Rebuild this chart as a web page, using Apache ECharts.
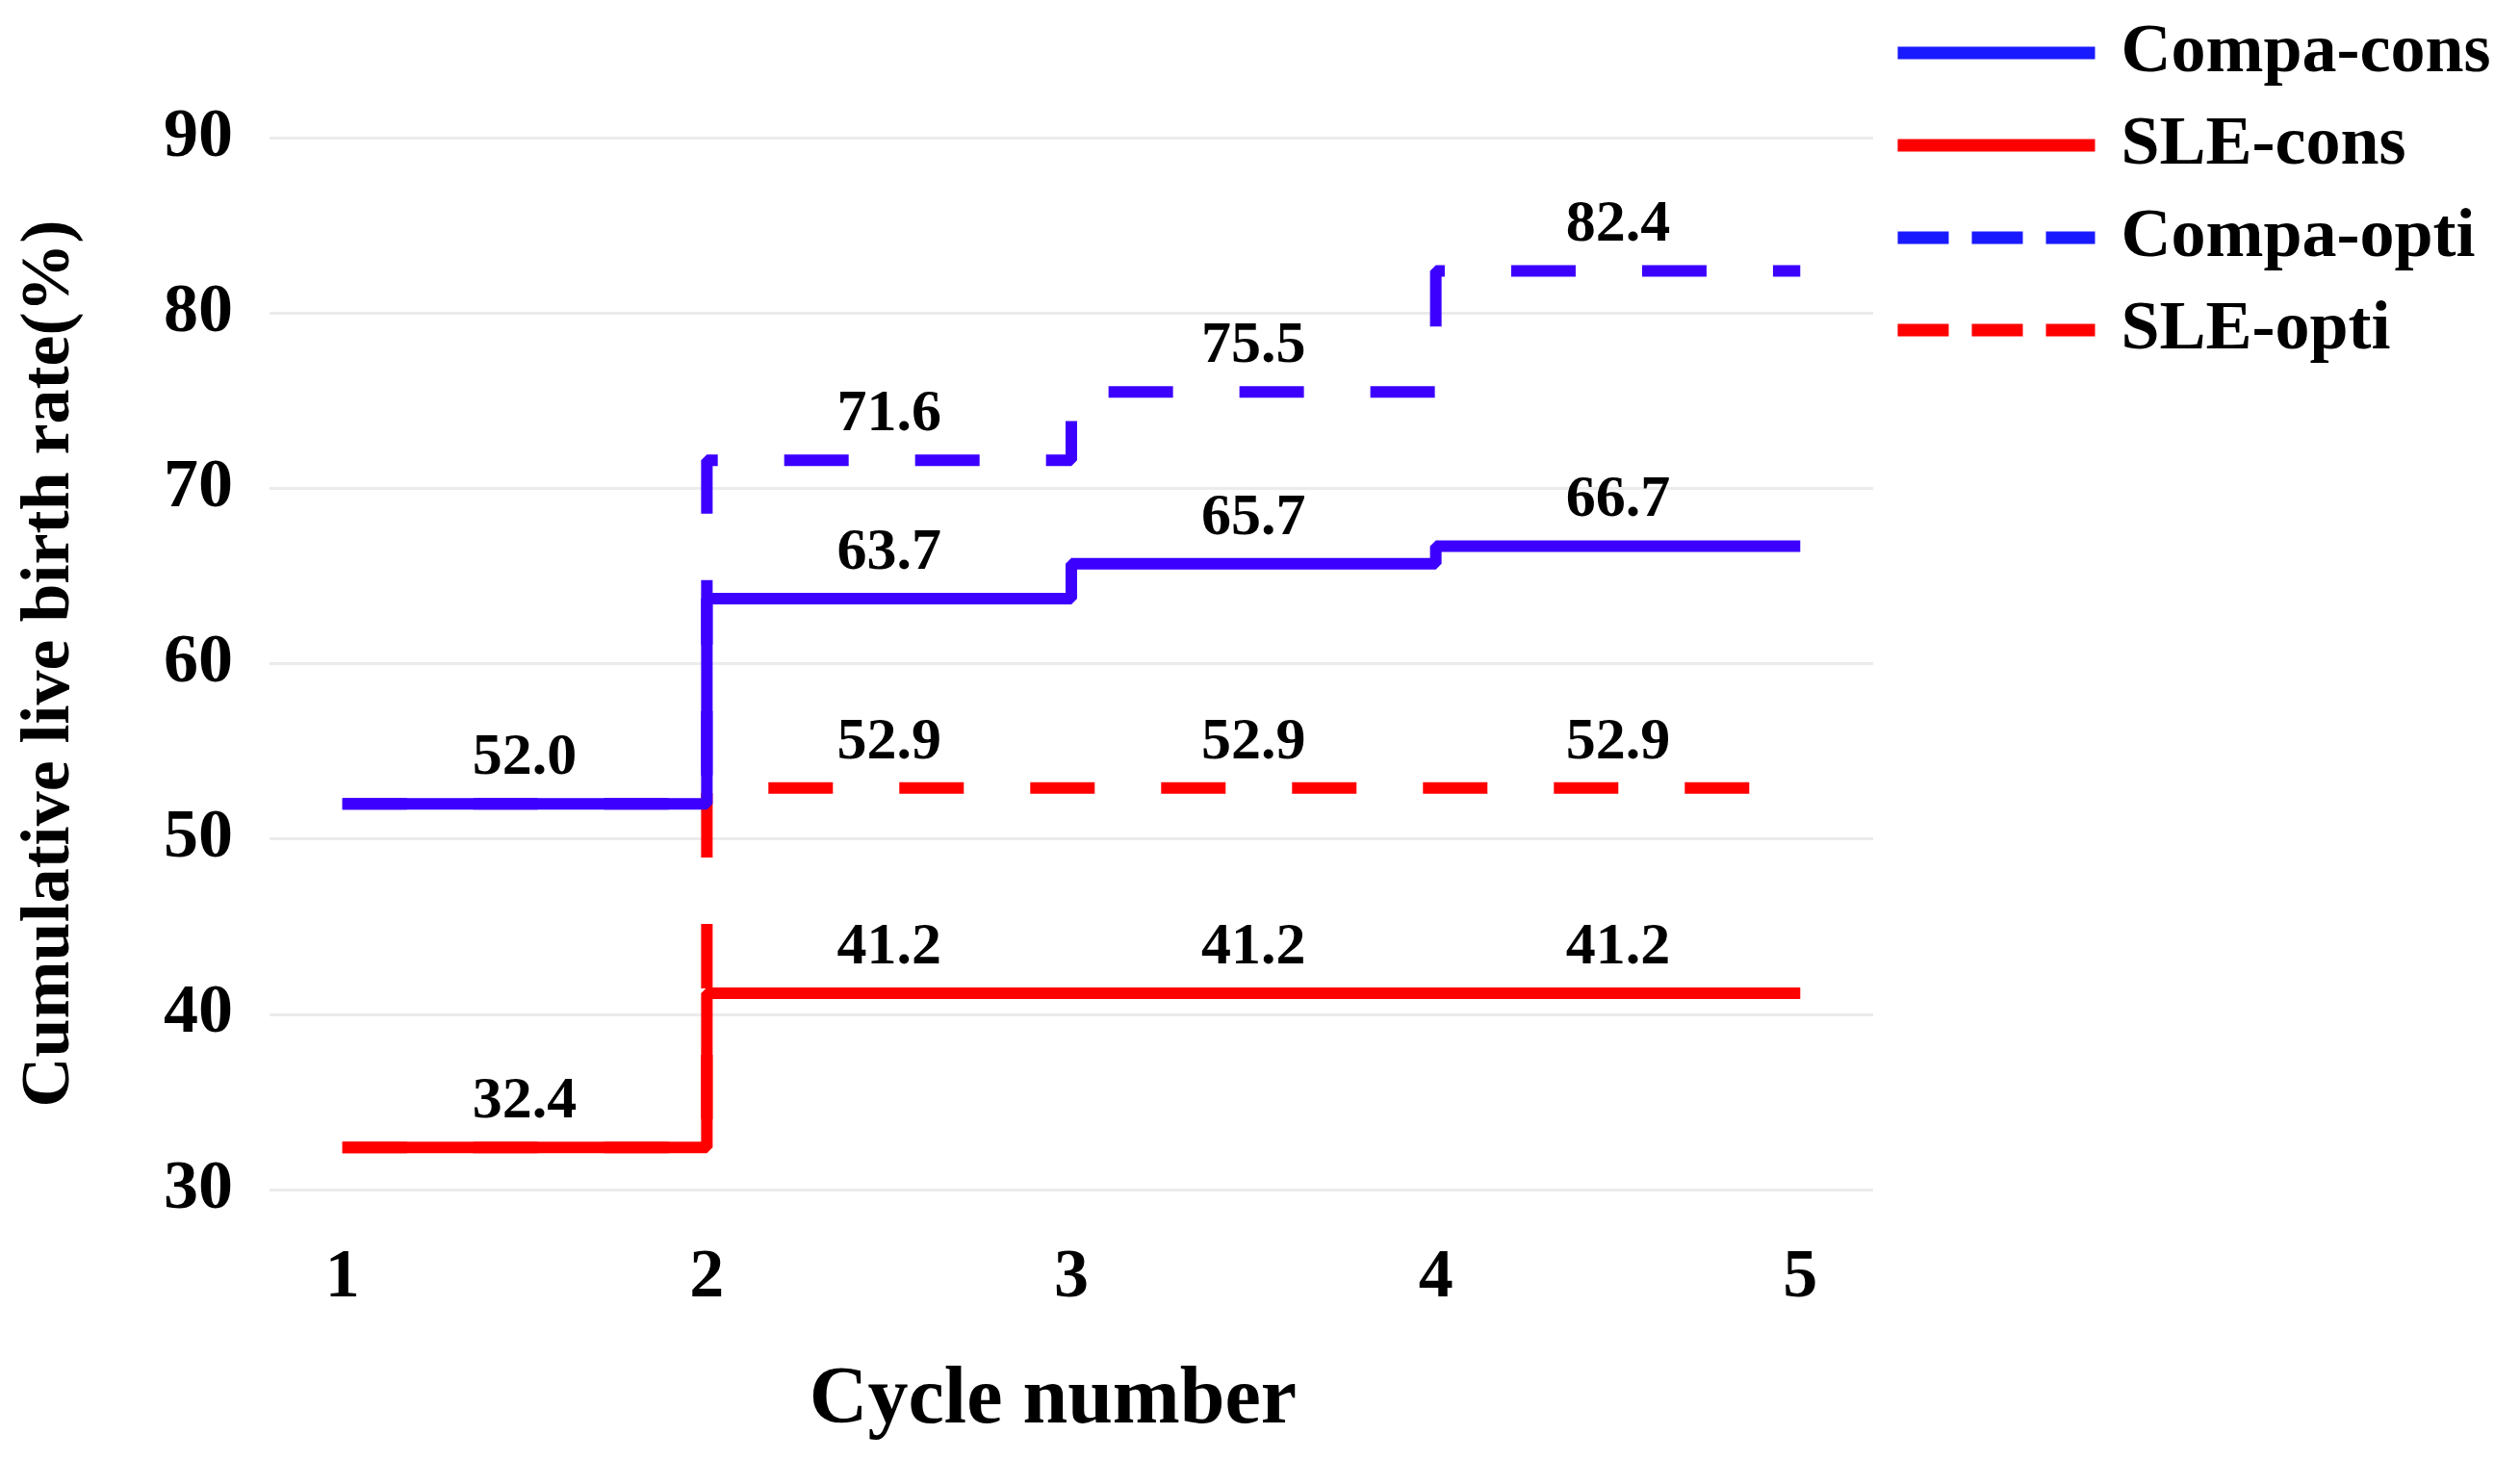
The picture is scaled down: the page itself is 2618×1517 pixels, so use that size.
<!DOCTYPE html>
<html>
<head>
<meta charset="utf-8">
<script src="https://cdn.jsdelivr.net/npm/echarts@6/dist/echarts.min.js"></script>
<style>
html, body { margin: 0; padding: 0; background: #fff; }
#main { width: 2618px; height: 1517px; }
</style>
</head>
<body>
<div id="main"></div>
<script>
// 数据
var cycles = [1, 2, 3, 4, 5];
var xTicks = [1, 2, 3, 4, 5];
var compaCons = [52.0, 63.7, 65.7, 66.7, 66.7];
var sleCons = [32.4, 41.2, 41.2, 41.2, 41.2];
var compaOpti = [52.0, 71.6, 75.5, 82.4, 82.4];
var sleOpti = [32.4, 52.9, 52.9, 52.9, 52.9];
var seriesNames = ['Compa-cons', 'SLE-cons', 'Compa-opti', 'SLE-opti'];

var font = "'Liberation Serif', 'Times New Roman', serif";
var blue = '#3c00ff';
var red = '#ff0000';

function pairs(ys) {
    var out = [];
    for (var i = 0; i < cycles.length; i++) {
        out.push([cycles[i], ys[i]]);
    }
    return out;
}

// 每一段中间放数值标签, from = 从第几段开始
function segLabels(ys, from) {
    var out = [];
    for (var i = from; i < cycles.length - 1; i++) {
        out.push([(cycles[i] + cycles[i + 1]) / 2, ys[i]]);
    }
    return out;
}

function stepLine(name, ys, color, dashed) {
    return {
        name: name,
        type: 'line',
        step: 'end',
        data: pairs(ys),
        symbol: 'none',
        z: dashed ? 2 : 3,
        lineStyle: {
            color: color,
            width: 12,
            type: dashed ? [67, 69] : 'solid'
        },
        itemStyle: { color: color }
    };
}

function labelSeries(name, pts) {
    return {
        name: name,
        type: 'scatter',
        data: pts,
        symbolSize: 0,
        silent: true,
        z: 5,
        itemStyle: { opacity: 1 },
        label: {
            show: true,
            position: 'top',
            distance: 16,
            formatter: function (p) { return p.value[1].toFixed(1); },
            fontSize: 62,
            fontWeight: 'bold',
            fontFamily: font,
            color: '#000'
        }
    };
}

// 图例里只要线, 不要圆点
function legendItem(name, color, dashed) {
    return {
        name: name,
        itemStyle: { opacity: 0 },
        lineStyle: { color: color, width: 13, type: dashed ? [53, 24] : 'solid' }
    };
}

var chart = echarts.init(document.getElementById('main'));
var option = {
    animation: false,
    backgroundColor: '#fff',
    grid: { left: 280, right: 672, top: 143, bottom: 281 },
    legend: {
        orient: 'vertical',
        left: 1960,
        top: 14,
        itemWidth: 205,
        itemHeight: 8,
        itemGap: 24,
        textStyle: { fontSize: 72, fontWeight: 'bold', fontFamily: font, color: '#000', padding: [0, 0, 0, 22] },
        data: [
            legendItem('Compa-cons', '#1a1aff', false),
            legendItem('SLE-cons', red, false),
            legendItem('Compa-opti', '#1a1aff', true),
            legendItem('SLE-opti', red, true)
        ]
    },
    xAxis: {
        type: 'value',
        min: 0.8,
        max: 5.2,
        name: 'Cycle number',
        nameLocation: 'middle',
        nameGap: 178,
        nameTextStyle: { fontSize: 84, fontWeight: 'bold', fontFamily: font, color: '#000', padding: [0, 38, 0, 0] },
        axisLine: { show: false },
        axisTick: { show: false },
        splitLine: { show: false },
        axisLabel: {
            customValues: xTicks,
            margin: 56,
            fontSize: 72,
            fontWeight: 'bold',
            fontFamily: font,
            color: '#000'
        }
    },
    yAxis: {
        type: 'value',
        min: 30,
        max: 90,
        interval: 10,
        name: 'Cumulative live birth rate(%)',
        nameLocation: 'middle',
        nameGap: 192,
        nameTextStyle: { fontSize: 72, fontWeight: 'bold', fontFamily: font, color: '#000' },
        axisLine: { show: false },
        axisTick: { show: false },
        splitLine: { lineStyle: { color: '#ebebeb', width: 3 } },
        axisLabel: {
            margin: 38,
            fontSize: 72,
            fontWeight: 'bold',
            fontFamily: font,
            color: '#000'
        }
    },
    series: [
        stepLine(seriesNames[2], compaOpti, blue, true),
        stepLine(seriesNames[3], sleOpti, red, true),
        stepLine(seriesNames[0], compaCons, blue, false),
        stepLine(seriesNames[1], sleCons, red, false),
        labelSeries('lab-cc', segLabels(compaCons, 0)),
        labelSeries('lab-sc', segLabels(sleCons, 0)),
        labelSeries('lab-co', segLabels(compaOpti, 1)),
        labelSeries('lab-so', segLabels(sleOpti, 1))
    ]
};
chart.setOption(option);
</script>
</body>
</html>
